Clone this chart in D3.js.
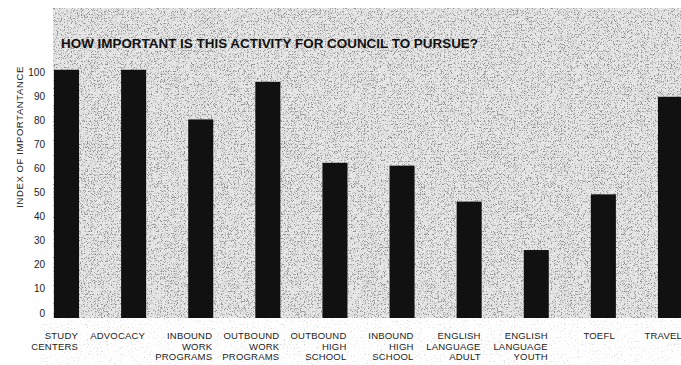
<!DOCTYPE html>
<html>
<head>
<meta charset="utf-8">
<script src="https://cdn.jsdelivr.net/npm/d3@7"></script>
<style>
  html, body { margin: 0; padding: 0; background: #fff; }
  svg { display: block; }
</style>
</head>
<body>
<div id="chart"></div>
<script>
// values
const categories = [
  ["STUDY", "CENTERS"],
  ["ADVOCACY"],
  ["INBOUND", "WORK", "PROGRAMS"],
  ["OUTBOUND", "WORK", "PROGRAMS"],
  ["OUTBOUND", "HIGH", "SCHOOL"],
  ["INBOUND", "HIGH", "SCHOOL"],
  ["ENGLISH", "LANGUAGE", "ADULT"],
  ["ENGLISH", "LANGUAGE", "YOUTH"],
  ["TOEFL"],
  ["TRAVEL"]
];
const importance = [103, 103, 82.4, 98, 64.4, 63.2, 48.3, 28.2, 51.3, 91.8];
const yTicks = [0, 10, 20, 30, 40, 50, 60, 70, 80, 90, 100];

const width = 681, height = 365;
const font = "'Liberation Sans', Arial, Helvetica, sans-serif";

const svg = d3.select("#chart").append("svg")
  .attr("width", width)
  .attr("height", height);

// stipple texture (printed screen look)
const defs = svg.append("defs");
function stipple(id, gain, cut, color) {
  const f = defs.append("filter").attr("id", id)
    .attr("x", 0).attr("y", 0).attr("width", 1).attr("height", 1);
  f.append("feTurbulence")
    .attr("type", "fractalNoise")
    .attr("baseFrequency", 1.3)
    .attr("numOctaves", 1)
    .attr("seed", 7)
    .attr("result", "n");
  f.append("feColorMatrix")
    .attr("in", "n")
    .attr("type", "matrix")
    .attr("values", `0 0 0 0 0  0 0 0 0 0  0 0 0 0 0  0 0 0 ${gain} ${-gain * cut}`)
    .attr("result", "a");
  f.append("feFlood").attr("flood-color", color).attr("result", "c");
  f.append("feComposite").attr("in", "c").attr("in2", "a").attr("operator", "in");
}
stipple("dots", 6, 0.53, "#8e8e8e");
stipple("dotsLight", 6, 0.62, "#aaaaaa");

const x = d3.scaleBand()
  .domain(d3.range(categories.length))
  .range([54, 683])
  .paddingInner(0.627)
  .paddingOuter(0);

const y = d3.scaleLinear()
  .domain([0, 100])
  .range([318, 77]);

// gray stippled panel
svg.append("rect")
  .attr("x", 53).attr("y", 8)
  .attr("width", width - 53).attr("height", y(0) - 8)
  .attr("fill", "#e6e6e6");
svg.append("rect")
  .attr("x", 53).attr("y", 8)
  .attr("width", width - 53).attr("height", y(0) - 8)
  .attr("fill", "#fff")
  .attr("filter", "url(#dots)");
// faint dots under the labels
svg.append("rect")
  .attr("x", 40).attr("y", y(0))
  .attr("width", width - 40).attr("height", height - y(0))
  .attr("fill", "#fff")
  .attr("filter", "url(#dotsLight)")
  .attr("opacity", 0.5);

// title
svg.append("text")
  .attr("x", 61)
  .attr("y", 48)
  .attr("font-family", font)
  .attr("font-weight", "bold")
  .attr("font-size", 12.5)
  .attr("textLength", 417)
  .attr("lengthAdjust", "spacingAndGlyphs")
  .attr("fill", "#111")
  .text("HOW IMPORTANT IS THIS ACTIVITY FOR COUNCIL TO PURSUE?");

// y tick labels
svg.append("g")
  .selectAll("text")
  .data(yTicks)
  .join("text")
  .attr("x", 45)
  .attr("y", d => y(d) - 5)
  .attr("dy", "0.35em")
  .attr("text-anchor", "end")
  .attr("font-family", font)
  .attr("font-size", 10)
  .attr("fill", "#222")
  .text(d => d);

// y axis title
svg.append("text")
  .attr("transform", `translate(23,${y(75)}) rotate(-90)`)
  .attr("text-anchor", "middle")
  .attr("font-family", font)
  .attr("font-size", 9.5)
  .attr("textLength", 141)
  .attr("lengthAdjust", "spacing")
  .attr("fill", "#222")
  .text("INDEX OF  IMPORTANTANCE");

// bars
svg.append("g")
  .selectAll("rect")
  .data(importance)
  .join("rect")
  .attr("x", (d, i) => x(i))
  .attr("y", d => y(d))
  .attr("width", x.bandwidth())
  .attr("height", d => y(0) - y(d))
  .attr("fill", "#111");

// category labels, right-aligned to the bar edge
const labels = svg.append("g")
  .selectAll("text")
  .data(categories)
  .join("text")
  .attr("x", (d, i) => x(i) + x.bandwidth() - 1)
  .attr("y", 339)
  .attr("text-anchor", "end")
  .attr("font-family", font)
  .attr("font-size", 9.5)
  .attr("letter-spacing", 0.2)
  .attr("fill", "#222");

labels.selectAll("tspan")
  .data(d => d)
  .join("tspan")
  .attr("x", function () { return this.parentNode.getAttribute("x"); })
  .attr("dy", (d, i) => i === 0 ? 0 : 10.5)
  .text(d => d);
</script>
</body>
</html>
